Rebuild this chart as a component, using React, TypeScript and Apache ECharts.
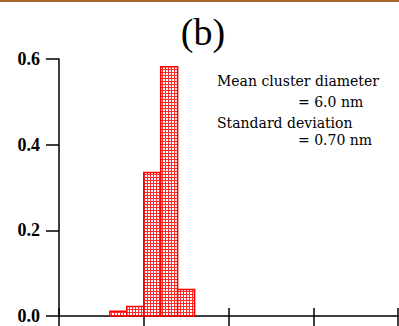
import React, { useEffect, useRef } from "react";
import * as echarts from "echarts";

const binStart = [3, 4, 5, 6, 7];
const binEnd = [4, 5, 6, 7, 8];
const fraction = [0.011, 0.022, 0.335, 0.582, 0.062];
const yTicks = [0, 0.2, 0.4, 0.6];
const xTicks = [0, 5, 10, 15, 20];
const title = "(b)";
const noteLines = ["Mean cluster diameter", "= 6.0 nm", "Standard deviation", "= 0.70 nm"];

function makePattern(): HTMLCanvasElement {
  const c = document.createElement("canvas");
  c.width = 3;
  c.height = 3;
  const ctx = c.getContext("2d")!;
  ctx.fillStyle = "#ff2a2a";
  ctx.fillRect(0, 0, 3, 3);
  ctx.fillStyle = "#ffffff";
  ctx.fillRect(1, 1, 2, 2);
  return c;
}

export default function App() {
  const ref = useRef<HTMLDivElement>(null);
  useEffect(() => {
    const chart = echarts.init(ref.current!, null, { renderer: "svg" });
    const data = binStart.map((s, i) => [s, binEnd[i], fraction[i]]);
    const pattern = makePattern();
    const xAxisBase = {
      type: "value",
      min: xTicks[0],
      max: xTicks[xTicks.length - 1],
      interval: xTicks[1] - xTicks[0],
      splitLine: { show: false },
      axisLabel: { show: false },
    };
    const noteFont = "14px 'DejaVu Serif'";
    chart.setOption({
      animation: false,
      backgroundColor: "#ffffff",
      title: {
        text: title,
        left: 198,
        top: 8,
        textAlign: "center",
        textStyle: { fontFamily: "Liberation Serif", fontSize: 38, fontWeight: "normal", color: "#000" },
      },
      grid: { left: 59, right: 1, top: 59, bottom: 10 },
      xAxis: [
        {
          ...xAxisBase,
          axisLine: { show: true, onZero: false, lineStyle: { color: "#000", width: 1.5 } },
          axisTick: { show: true, inside: false, length: 10, lineStyle: { color: "#000", width: 1.5 } },
        },
        {
          ...xAxisBase,
          position: "bottom",
          axisLine: { show: false, onZero: false },
          axisTick: { show: true, inside: true, length: 8, lineStyle: { color: "#000", width: 1.5 } },
        },
      ],
      yAxis: {
        type: "value",
        min: yTicks[0],
        max: yTicks[yTicks.length - 1],
        interval: yTicks[1] - yTicks[0],
        splitLine: { show: false },
        axisLine: { show: true, lineStyle: { color: "#000", width: 1.5 } },
        axisTick: { show: true, length: 13, lineStyle: { color: "#000", width: 1.5 } },
        axisLabel: {
          margin: 19,
          fontFamily: "Liberation Serif",
          fontWeight: "bold",
          fontSize: 18,
          color: "#000",
          formatter: (v: number) => v.toFixed(1),
        },
      },
      series: [
        {
          type: "custom",
          xAxisIndex: 0,
          data,
          renderItem: (params: any, api: any) => {
            const p0 = api.coord([api.value(0), 0]);
            const p1 = api.coord([api.value(1), api.value(2)]);
            return {
              type: "rect",
              shape: { x: p0[0], y: p1[1], width: p1[0] - p0[0], height: p0[1] - p1[1] },
              style: {
                fill: { image: pattern, repeat: "repeat" },
                stroke: "#ff0000",
                lineWidth: 1.5,
              },
            };
          },
        },
      ],
      graphic: [
        {
          type: "rect",
          left: 0,
          top: 0,
          shape: { width: 399, height: 2 },
          style: { fill: "#a5662c" },
        },
        {
          type: "group",
          left: 217,
          top: 74,
          children: [
            { type: "text", x: 0, y: 0, style: { text: noteLines[0], font: noteFont, fill: "#000" } },
            { type: "text", x: 81, y: 21, style: { text: noteLines[1], font: noteFont, fill: "#000" } },
            { type: "text", x: 0, y: 42, style: { text: noteLines[2], font: noteFont, fill: "#000" } },
            { type: "text", x: 81, y: 59, style: { text: noteLines[3], font: noteFont, fill: "#000" } },
          ],
        },
      ],
    });
    return () => chart.dispose();
  }, []);
  return (
    <div
      ref={ref}
      style={{ position: "fixed", left: 0, top: 0, width: 399, height: 326 }}
    />
  );
}
